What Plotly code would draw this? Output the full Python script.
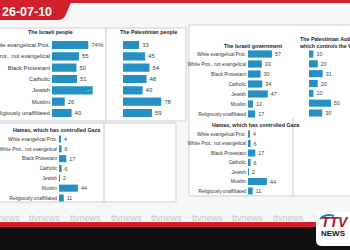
import plotly.graph_objects as go

W, H = 350, 250

# ---- data ----
categories = ["White evangelical Prot.", "White Prot., not evangelical", "Black Protestant",
              "Catholic", "Jewish", "Muslim", "Religiously unaffiliated"]
israeli_people = [74, 55, 50, 51, 83, 26, 40]
palestinian_people = [33, 45, 54, 48, 40, 78, 59]
israeli_government = [57, 33, 30, 34, 47, 12, 17]
palestinian_authority = [10, 20, 31, 20, 10, 50, 30]
hamas_left = [4, 6, 17, 6, 2, 44, 11]
hamas_right = [4, 6, 17, 6, 2, 44, 11]
panel_titles = ["The Israeli people", "The Palestinian people", "The Israeli government",
                "The Palestinian Authority,<br>which controls the West Bank",
                "Hamas, which has controlled Gaza", "Hamas, which has controlled Gaza"]
date_label = "26-07-10"
watermark = "ttvnews"

BAR = "#2490c4"
FONT = "Liberation Sans"

def px(x):
    return x / W

def py(y):
    return 1 - y / H

# panel layout: (values, bar start px, px per unit, first row y, last row y, show labels, label size, value text size)
panels = [
    (israeli_people, 52, 0.49, 45, 113, True, 5.8, 6),
    (palestinian_people, 123, 0.49, 45, 113, False, 5.8, 6),
    (israeli_government, 248, 0.42, 54, 114, True, 4.8, 5.4),
    (palestinian_authority, 309, 0.44, 54, 113, False, 4.8, 5.4),
    (hamas_left, 59, 0.43, 139, 198, True, 4.8, 5.4),
    (hamas_right, 248, 0.43, 134, 191, True, 4.8, 5.4),
]

fig = go.Figure()
layout_axes = {}
for i, (vals, x0, scale, r0, r6, showlab, labsize, txtsize) in enumerate(panels):
    n = i + 1
    xmax = 100
    x1 = x0 + xmax * scale
    if x1 > W:
        x1 = W
        xmax = (W - x0) / scale
    s = (r6 - r0) / 6
    texts = [str(v) for v in vals]
    pos = ["outside"] * len(vals)
    if i == 0:
        texts[0] = f"{vals[0]}%"
        pos[4] = "inside"
    fig.add_trace(go.Bar(
        x=vals, y=categories, orientation="h",
        marker=dict(color=BAR, line=dict(width=0)),
        text=texts, textposition=pos, insidetextanchor="end",
        outsidetextfont=dict(size=txtsize, color="#444", family=FONT),
        insidetextfont=dict(size=txtsize, color="white", family=FONT),
        cliponaxis=False, showlegend=False, hoverinfo="skip",
        xaxis=f"x{n}", yaxis=f"y{n}", width=0.72,
    ))
    layout_axes[f"xaxis{n}"] = dict(domain=[px(x0), px(x1)], range=[0, xmax], visible=False,
                                    anchor=f"y{n}", fixedrange=True, automargin=False)
    layout_axes[f"yaxis{n}"] = dict(domain=[py(r6 + s / 2), py(r0 - s / 2)], range=[6.5, -0.5],
                                    type="category", anchor=f"x{n}", showgrid=False,
                                    zeroline=False, showline=False, ticks="", automargin=False,
                                    showticklabels=showlab, ticklabelstandoff=1,
                                    tickfont=dict(size=labsize, color="#333", family=FONT))

fig.update_layout(**layout_axes)

shapes = []
annotations = []

def rect(x0, y0, x1, y1, fill, line=None, lw=0):
    shapes.append(dict(type="rect", xref="paper", yref="paper", x0=px(x0), x1=px(x1),
                       y0=py(y1), y1=py(y0), fillcolor=fill,
                       line=dict(color=line or fill, width=lw), layer="below"))

def line(x0, y0, x1, y1, color="#c9c9c9", w=1):
    shapes.append(dict(type="line", xref="paper", yref="paper", x0=px(x0), x1=px(x1),
                       y0=py(y0), y1=py(y1), line=dict(color=color, width=w), layer="below"))

# panel boxes
rect(-2, 28, 186, 121, "white", "#cfcfcf", 1)
line(106, 28, 106, 121)
rect(-2, 123, 176, 202, "white", "#cfcfcf", 1)
line(104, 123, 104, 202)
rect(189, 25, 352, 196, "white", "#cfcfcf", 1)
line(293, 118, 293, 196)

# titles
title_pos = [(50, 32, "center"), (148, 32, "center"), (253, 46, "center"),
             (297, 42, "left"), (56, 130, "center"), (255, 125, "center")]
for t, (x, y, anc) in zip(panel_titles, title_pos):
    annotations.append(dict(text=f"<b>{t}</b>", x=px(x), y=py(y), xref="paper", yref="paper",
                            xanchor=anc, yanchor="middle", showarrow=False, align="left",
                            font=dict(size=5.3, color="#222", family=FONT)))

# top date banner
rect(0, 0, 350, 3, "#d21f2b")
shapes.append(dict(type="path", xref="paper", yref="paper",
                   path=f"M {px(0)},{py(0)} L {px(72)},{py(0)} L {px(66)},{py(14)} "
                        f"Q {px(64)},{py(20)} {px(57)},{py(20)} L {px(0)},{py(20)} Z",
                   fillcolor="#d21f2b", line=dict(width=0), layer="below"))
annotations.append(dict(text=f"<b>{date_label}</b>", x=px(0), y=py(12), xref="paper", yref="paper",
                        xanchor="left", yanchor="middle", showarrow=False,
                        font=dict(size=12.5, color="white", family=FONT)))

# watermark row
for k in range(-1, 7):
    cx = 45 + k * 40.5
    annotations.append(dict(text=watermark, x=px(cx), y=py(218), xref="paper", yref="paper",
                            xanchor="center", yanchor="middle", showarrow=False,
                            font=dict(size=9, color="#c4c4c4", family=FONT)))

# bottom bar
rect(0, 227, 350, 250, "#111111")
rect(0, 222, 318, 227, "#d21f2b")
shapes.append(dict(type="path", xref="paper", yref="paper",
                   path=f"M {px(316)},{py(212)} L {px(350)},{py(212)} L {px(350)},{py(246)} "
                        f"L {px(322)},{py(246)} Q {px(316)},{py(246)} {px(316)},{py(240)} Z",
                   fillcolor="white", line=dict(width=0), layer="below"))
shapes.append(dict(type="path", xref="paper", yref="paper",
                   path=f"M {px(320)},{py(219)} Q {px(326)},{py(213)} {px(334)},{py(216)}",
                   line=dict(color="#1f7fc4", width=2)))
annotations.append(dict(text="<b><i>TTV</i></b>", x=px(319), y=py(222), xref="paper", yref="paper",
                        xanchor="left", yanchor="middle", showarrow=False,
                        font=dict(size=14, color="#b3122a", family=FONT)))
annotations.append(dict(text="<b>NEWS</b>", x=px(319), y=py(233), xref="paper", yref="paper",
                        xanchor="left", yanchor="middle", showarrow=False,
                        font=dict(size=8, color="#111", family=FONT)))

fig.update_layout(
    template="none",
    width=W, height=H, margin=dict(l=0, r=0, t=0, b=0, pad=0),
    paper_bgcolor="#f7f7f7", plot_bgcolor="rgba(0,0,0,0)",
    shapes=shapes, annotations=annotations, bargap=0.28,
)

fig.write_html("out.html", config={"displayModeBar": False})
